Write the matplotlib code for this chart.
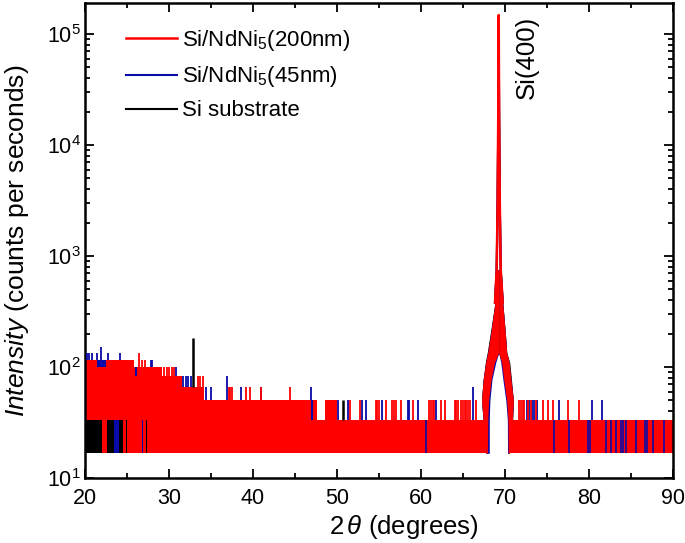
import matplotlib
matplotlib.use('Agg')
import matplotlib.pyplot as plt
from matplotlib.ticker import MultipleLocator, LogLocator, NullFormatter

plt.rcParams['font.family'] = ['Liberation Sans', 'DejaVu Sans']
plt.rcParams['mathtext.fontset'] = 'custom'
plt.rcParams['mathtext.rm'] = 'Liberation Sans'
plt.rcParams['mathtext.it'] = 'Liberation Sans:italic'
plt.rcParams['mathtext.bf'] = 'Liberation Sans:bold'

RED = '#ff0000'
BLUE = '#0a0aa8'
BLACK = '#000000'

labels = ['Si/NdNi$_5$(200nm)', 'Si/NdNi$_5$(45nm)', 'Si substrate']

# background level of the counting noise (counts per second, steps of ~16.7)
floor = 16.7
bg_x0 = [20.0, 25.8, 29.2, 31.6, 34.2, 47.6, 48.6, 50.0, 70.45]
bg_x1 = [25.8, 29.2, 31.6, 34.2, 47.6, 48.6, 50.0, 67.74, 90.0]
bg_top = [116.7, 100, 83.3, 66.7, 50, 33.3, 50, 33.3, 33.3]

# Si(400) peak: flank edges (deg) at given intensity levels
pk_lvl = [16.7, 33.3, 50, 77, 110, 134, 200, 380, 750]
red_lo_out = [67.74, 67.40, 67.20, 67.40, 67.70, 67.94, 68.30, 68.81, 69.01]
red_lo_in = [67.92, 67.95, 68.05, 68.35, 68.75, 69.25, 69.25, 69.25, 69.25]
red_hi_in = [70.38, 70.35, 70.20, 69.85, 69.60, 69.25, 69.25, 69.25, 69.25]
red_hi_out = [70.50, 70.90, 71.00, 70.71, 70.50, 70.20, 70.04, 69.73, 69.49]
blue_lo_in = [68.13, 68.13, 68.20, 68.45, 68.90, 69.25, 69.25, 69.25, 69.25]
blue_hi_in = [70.30, 70.28, 70.10, 69.75, 69.50, 69.25, 69.25, 69.25, 69.25]
black_lo_out = [67.74, 67.40, 67.20, 67.40, 67.66, 67.88, 68.24, 68.80, 69.01]
black_hi_out = [70.50, 70.90, 71.00, 70.77, 70.56, 70.22, 70.05, 69.74, 69.49]

# peak tip
tip_x = [68.81, 69.01, 69.12, 69.20, 69.25, 69.30, 69.38, 69.49, 69.73]
red_tip = [380, 750, 3000, 20000, 148000, 20000, 3000, 750, 380]
blue_tip = [380, 750, 3000, 18000, 130000, 18000, 3000, 750, 380]
black_tip = [380, 750, 3000, 19000, 140000, 19000, 3000, 750, 380]

# isolated spikes above the noise band
blue_spk_x = [20.2, 20.48, 20.87, 21.39, 21.94, 22.74, 24.17, 27.82, 28.02, 30.8,
              31.7, 32.0, 32.3, 32.6, 34.4, 35.0, 36.94, 38.6, 40.9, 46.9,
              50.15, 51.35, 52.94, 53.5, 55.4, 58.4, 58.6, 59.6, 61.8, 66.15,
              72.62, 72.9, 73.2, 73.5, 73.8, 76.47, 80.4, 81.6]
blue_spk_lo = [116.7] * 7 + [100, 100, 83.3] + [66.7] * 4 + [50] * 6 + [33.3] * 18
blue_spk_hi = [133.3, 133.3, 133.3, 133.3, 150, 133.3, 133.3, 116.7, 116.7, 100,
               83.3, 83.3, 83.3, 83.3, 66.7, 66.7, 83.3, 66.7, 66.7, 66.7,
               50, 50, 50, 50, 50, 50, 50, 50, 50, 66.7,
               50, 50, 50, 50, 50, 50, 50, 50]

red_spk_x = [26.43, 26.8, 27.2, 29.4, 29.8, 30.0, 30.4, 30.6, 33.4, 33.7, 34.0,
             37.1, 37.3, 37.5, 39.2, 39.6, 41.0, 44.4,
             51.55, 52.74, 54.6, 54.8, 55.0, 55.8, 56.6, 56.8, 57.0, 57.6, 59.0,
             61.0, 61.2, 61.4, 61.6, 62.4, 62.8, 64.0, 64.2, 64.4, 64.8, 65.0,
             65.2, 65.4, 65.6, 65.8, 66.55, 71.71, 71.9, 72.1, 72.3, 72.75, 73.05,
             73.65, 74.5, 75.1, 75.7, 77.46, 78.85]
red_spk_lo = [100, 100, 100, 83.3, 83.3, 83.3, 83.3, 83.3, 66.7, 66.7, 66.7,
              50, 50, 50, 50, 50, 50, 50] + [33.3] * 39
red_spk_hi = [133.3, 116.7, 116.7, 100, 100, 100, 100, 100, 83.3, 83.3, 83.3,
              66.7, 66.7, 66.7, 66.7, 66.7, 66.7, 66.7] + [50] * 39

black_spk_x = [32.9, 50.7]
black_spk_lo = [66.7, 33.3]
black_spk_hi = [183.3, 50]

# coloured blocks showing through the red noise band
blk_x0 = [20.0, 22.58, 24.05, 24.84, 25.44, 26.03, 26.63, 27.22, 27.82, 28.41,
          23.45, 26.83, 29.40, 21.40, 25.90, 46.85]
blk_x1 = [22.06, 23.45, 24.56, 25.04, 25.52, 26.09, 26.69, 27.42, 27.88, 28.47,
          24.05, 26.89, 29.46, 22.55, 26.15, 47.10]
blk_lo = [16.7] * 13 + [100, 83.3, 33.3]
blk_hi = [33.3] * 13 + [116.7, 100, 50]
blk_c = [BLACK] * 10 + [BLUE] * 6

blue_strp_x = [60.6, 75.87, 77.66, 79.9, 80.15, 82.02, 82.62, 83.21, 83.85, 84.1,
               84.35, 85.6, 86.65, 86.9, 87.58, 88.97]

fig = plt.figure(figsize=(6.85, 5.43), dpi=100)
ax = fig.add_axes([85 / 685, 1 - 478 / 543, 588 / 685, 475 / 543])

# noise band of the 200 nm film
for x0, x1, top in zip(bg_x0, bg_x1, bg_top):
    ax.bar(x0, top - floor, width=x1 - x0, bottom=floor, align='edge',
           color=RED, linewidth=0, zorder=2)

# peak flanks (black under blue under red)
ax.fill_betweenx(pk_lvl, black_lo_out, red_lo_in, color=BLACK, lw=0, zorder=1)
ax.fill_betweenx(pk_lvl, red_hi_in, black_hi_out, color=BLACK, lw=0, zorder=1)
ax.fill_betweenx(pk_lvl, red_lo_out, blue_lo_in, color=BLUE, lw=0, zorder=1.5)
ax.fill_betweenx(pk_lvl, blue_hi_in, red_hi_out, color=BLUE, lw=0, zorder=1.5)
ax.fill_betweenx(pk_lvl, red_lo_out, red_lo_in, color=RED, lw=0, zorder=2)
ax.fill_betweenx(pk_lvl, red_hi_in, red_hi_out, color=RED, lw=0, zorder=2)

h_black, = ax.plot(tip_x, black_tip, color=BLACK, lw=1.5, zorder=1)
h_blue, = ax.plot(tip_x, blue_tip, color=BLUE, lw=1.5, zorder=1.5)
h_red, = ax.plot(tip_x, red_tip, color=RED, lw=1.8, zorder=4)

for x0, x1, lo, hi, c in zip(blk_x0, blk_x1, blk_lo, blk_hi, blk_c):
    ax.bar(x0, hi - lo, width=x1 - x0, bottom=lo, align='edge',
           color=c, linewidth=0, zorder=3)
ax.vlines(blue_strp_x, floor, 33.3, colors=BLUE, lw=1.2, zorder=3)
ax.vlines(blue_spk_x, blue_spk_lo, blue_spk_hi, colors=BLUE, lw=1.3, zorder=3)
ax.vlines(red_spk_x, red_spk_lo, red_spk_hi, colors=RED, lw=1.3, zorder=3)
ax.vlines(black_spk_x, black_spk_lo, black_spk_hi, colors=BLACK, lw=1.8, zorder=3)

ax.text(72.6, 6.1e4, 'Si(400)', rotation=90, ha='center', va='center', fontsize=18.5)

ax.set_yscale('log')
ax.set_xlim(20, 90)
ax.set_ylim(10, 1.9e5)
ax.xaxis.set_major_locator(MultipleLocator(10))
ax.xaxis.set_minor_locator(MultipleLocator(5))
ax.yaxis.set_major_locator(LogLocator(base=10))
ax.yaxis.set_minor_locator(LogLocator(base=10, subs=range(2, 10), numticks=12))
ax.yaxis.set_minor_formatter(NullFormatter())
ax.tick_params(which='both', direction='in', top=True, right=True, width=1.3,
               labelsize=15.5)
ax.tick_params(which='major', length=6.5)
ax.tick_params(axis='x', which='major', pad=7)
ax.tick_params(axis='y', which='major', pad=3)
ax.tick_params(which='minor', length=3.8)
for s in ax.spines.values():
    s.set_linewidth(1.8)

ax.set_xlabel(r'2$\,\theta$ (degrees)', fontsize=18.5)
ax.set_ylabel(r'$\it{Intensity}$ (counts per seconds)', fontsize=19)
ax.xaxis.set_label_coords(0.543, -0.074)
ax.yaxis.set_label_coords(-0.092, 0.5)

ax.legend([h_red, h_blue, h_black], labels, loc='upper left',
          bbox_to_anchor=(0.07, 0.947), frameon=False, fontsize=16,
          handlelength=2.3, handletextpad=0.2, labelspacing=0.5,
          borderpad=0, borderaxespad=0)

fig.savefig('out.png', dpi=100)
